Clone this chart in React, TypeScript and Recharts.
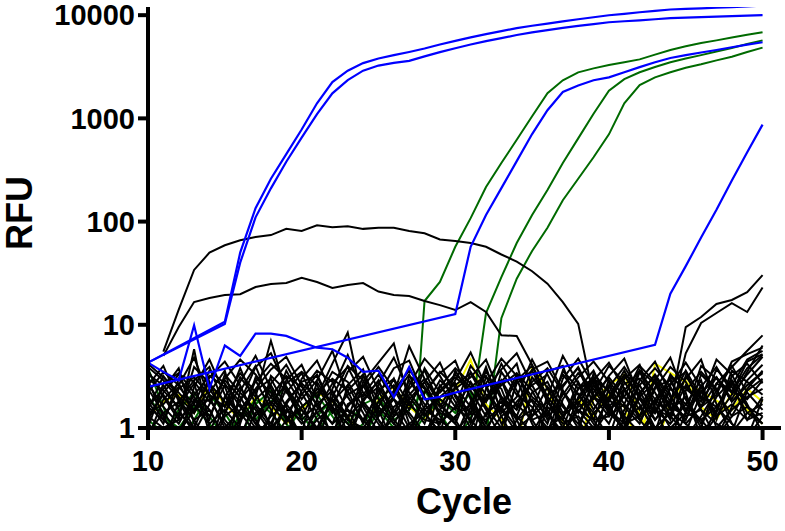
import { LineChart, Line, XAxis, YAxis } from "recharts";

const n = null;

const cycles = [
  10, 11, 12, 13, 14, 15, 16, 17, 18, 19, 20, 21, 22, 23, 24, 25, 26, 27, 28, 29,
  30, 31, 32, 33, 34, 35, 36, 37, 38, 39, 40, 41, 42, 43, 44, 45, 46, 47, 48, 49, 50,
];
const xTicks = [10, 20, 30, 40, 50];
const yTicks = [1, 10, 100, 1000, 10000];

// amplification curves (blue)
const blueA = [
  4.3, n, n, n, n, 10.7, 50, 135, 260, 450,
  780, 1400, 2250, 2900, 3430, 3800, 4100, 4400, 4750, 5200,
  5630, 6100, 6550, 7000, 7480, 7900, 8290, 8700, 9130, 9550,
  9980, 10300, 10670, 11000, 11350, 11500, 11650, 11800, 11950, 12150,
  12400,
];
const blueB = [
  4.3, n, n, n, n, 10.2, 40, 110, 210, 380,
  650, 1100, 1750, 2350, 2900, 3250, 3450, 3610, 3990, 4380,
  4780, 5200, 5600, 6000, 6420, 6800, 7170, 7520, 7880, 8200,
  8540, 8730, 8920, 9130, 9350, 9470, 9580, 9690, 9790, 9900,
  10000,
];
const blueC = [
  2.5, n, n, n, n, n, n, n, n, n,
  n, n, n, n, n, n, n, n, n, n,
  12.7, 57, 116, 211, 385, 705, 1200, 1800, 2080, 2340,
  2500, 2800, 3140, 3500, 3850, 4100, 4350, 4600, 4890, 5180,
  5470,
];
const blueD = [
  4.3, 3.5, 2.9, 9.9, 2.4, 6.3, 5.0, 8.2, 8.2, 7.8,
  6.8, 6.0, 5.8, 4.8, 3.5, 3.6, 2.0, 3.9, 1.9, 2.0,
  2.2, n, n, n, n, n, n, n, n, n,
  n, n, n, 6.4, 20, 37, 70, 130, 250, 470,
  870,
];

// amplification curves (green)
const greenE = [
  3.8, 1.6, 0.6, 1.2, 2.1, 1.4, 0.8, 1.7, 2.3, 1.1,
  0.7, 1.3, 1.9, 1.2, 0.8, 1.5, 1.0, 0.15, 17, 26,
  57, 108, 216, 370, 620, 1050, 1750, 2340, 2790, 3050,
  3290, 3500, 3730, 4150, 4600, 5000, 5370, 5700, 6090, 6450,
  6840,
];
const greenF = [
  1.2, 0.9, 1.5, 2.2, 1.3, 0.8, 1.2, 1.9, 1.4, 0.9,
  1.6, 2.1, 1.3, 0.8, 1.1, 1.8, 1.2, 1.5, 2.3, 1.4,
  0.8, 1.2, 13, 29, 62, 116, 202, 370, 640, 1110,
  1850, 2400, 2800, 3150, 3500, 3800, 4100, 4450, 4800, 5250,
  5700,
];
const greenG = [
  2.0, 1.3, 1.0, 1.6, 1.1, 0.7, 1.4, 1.2, 1.8, 2.5,
  1.3, 0.9, 1.5, 1.1, 1.7, 2.0, 1.2, 0.8, 1.3, 1.9,
  1.4, 2.2, 0.8, 11.6, 28, 52, 87, 161, 260, 420,
  700, 1400, 2100, 2500, 2800, 3100, 3350, 3650, 3950, 4400,
  4850,
];

// black curves that leave the baseline
const humpHigh = [
  n, 5.5, 14, 34, 50, 59, 66, 71, 74, 85,
  81, 92, 88, 90, 85, 87, 87, 81, 77, 67,
  65, 62, 57, 48, 41, 33, 25, 16.6, 10.2, 2.0,
  1.6, 2.4, 1.2, 1.9, 3.0, 1.5, 2.2, 3.1, 1.8, 2.6,
  3.5,
];
const humpLow = [
  n, 5.0, 9.5, 16.6, 18.2, 19.4, 19.8, 23.2, 24.8, 25.4,
  28.5, 26, 22.7, 24.3, 25.4, 21, 19.4, 19, 17, 15.5,
  13.9, 16.6, 13.3, 7.9, 7.8, 4.1, 2.0, 1.3, 2.4, 3.0,
  1.4, 1.0, 2.1, 3.3, 2.0, 1.2, 2.5, 3.9, 2.2, 4.4,
  5.2,
];
const lateP = [
  n, n, n, n, n, n, n, n, n, n,
  n, n, n, n, n, n, n, n, n, n,
  n, n, n, n, n, n, n, n, 1.4, 2.6,
  1.8, 3.2, 2.0, 2.8, 1.6, 9.5, 11.9, 15.9, 17.4, 20.7,
  30.3,
];
const lateQ = [
  n, n, n, n, n, n, n, n, n, n,
  n, n, n, n, n, n, n, n, n, n,
  n, n, n, n, n, n, n, n, 2.2, 1.2,
  2.9, 1.7, 3.6, 1.5, 1.3, 5.3, 10.4, 13.0, 16.2, 13.3,
  23,
];

// baseline noise (black)
const noise = [
  [4.2, 3.1, 2.2, 1.5, 2.8, 1.2, 0.8, 1.9, 2.6, 1.4, 2.1, 3.3, 1.6, 0.7, 1.8, 2.9, 1.3, 2.4, 3.6, 1.7, 1.1, 2.5, 3.2, 1.5, 0.9, 2.2, 2.8, 1.4, 1.9, 3.0, 2.3, 1.2, 0.6, 1.8, 2.7, 3.5, 1.6, 2.1, 4.4, 5.2, 6.0],
  [1.6, 2.4, 3.8, 1.1, 0.6, 2.0, 3.4, 2.2, 1.0, 2.9, 4.1, 1.9, 0.8, 2.6, 3.7, 1.5, 0.7, 1.9, 2.8, 4.3, 2.0, 1.2, 3.1, 2.4, 1.0, 0.5, 1.7, 3.3, 2.1, 1.4, 0.8, 2.3, 3.6, 2.7, 1.3, 0.9, 2.2, 3.1, 1.8, 2.6, 3.4],
  [2.9, 1.3, 0.7, 2.5, 4.6, 2.1, 1.4, 0.9, 3.2, 2.3, 1.2, 0.6, 2.4, 5.1, 2.2, 1.6, 3.0, 1.1, 0.7, 2.5, 3.8, 2.7, 1.5, 0.8, 2.9, 4.0, 1.9, 1.0, 2.4, 3.6, 1.7, 0.9, 2.0, 1.4, 3.3, 2.2, 0.8, 1.5, 2.8, 1.2, 2.0],
  [3.6, 2.0, 1.2, 5.8, 1.0, 0.5, 2.3, 4.0, 1.7, 1.1, 3.0, 4.5, 2.1, 1.3, 0.6, 2.7, 4.8, 2.2, 1.4, 0.9, 2.6, 3.4, 1.8, 4.2, 2.3, 1.1, 0.6, 2.5, 3.9, 2.0, 1.3, 3.0, 4.1, 1.6, 0.7, 2.3, 3.5, 2.4, 1.1, 0.8, 1.9],
  [1.1, 0.7, 1.8, 2.9, 3.9, 1.6, 2.8, 5.0, 2.4, 1.3, 0.7, 1.9, 3.5, 2.8, 1.6, 0.9, 2.1, 6.2, 3.0, 1.7, 1.2, 0.7, 2.4, 3.7, 5.3, 2.6, 1.4, 0.8, 1.7, 2.9, 4.3, 2.4, 1.3, 2.9, 4.8, 1.9, 1.0, 2.7, 3.9, 5.6, 7.9],
  [2.2, 3.5, 2.6, 4.8, 2.0, 1.0, 1.5, 2.4, 3.7, 4.9, 2.6, 1.4, 0.9, 1.6, 2.5, 3.9, 2.4, 1.3, 0.8, 1.5, 2.4, 3.1, 4.6, 2.0, 1.3, 3.1, 2.0, 5.0, 2.7, 1.2, 0.7, 1.5, 2.6, 3.8, 2.5, 1.4, 4.0, 3.0, 2.2, 3.8, 5.1],
  [0.8, 1.9, 2.7, 1.4, 3.1, 4.4, 2.6, 1.2, 0.7, 1.8, 2.7, 2.0, 4.2, 8.4, 1.7, 1.1, 0.6, 2.6, 4.7, 3.2, 1.8, 1.0, 2.0, 2.9, 1.6, 3.7, 4.4, 2.3, 1.2, 0.7, 2.5, 3.9, 2.3, 1.2, 1.9, 3.0, 4.6, 1.7, 0.9, 2.3, 3.0],
  [3.3, 2.6, 1.5, 0.9, 1.7, 3.0, 4.6, 3.3, 2.0, 1.3, 0.9, 2.8, 1.6, 3.5, 4.9, 2.3, 1.2, 0.8, 2.2, 3.4, 4.5, 1.9, 1.0, 1.6, 3.3, 1.8, 1.1, 3.0, 4.7, 2.6, 1.5, 1.0, 2.9, 4.4, 2.1, 1.1, 1.6, 3.7, 2.5, 1.4, 1.1],
  [1.8, 1.1, 3.0, 2.0, 1.3, 2.6, 1.8, 3.9, 5.3, 2.5, 1.5, 1.0, 1.9, 0.9, 2.8, 4.3, 6.6, 1.8, 1.1, 2.6, 1.6, 4.0, 2.6, 1.3, 0.7, 1.5, 3.5, 4.0, 1.6, 1.9, 3.2, 4.7, 2.0, 1.0, 0.6, 1.4, 2.6, 1.2, 3.2, 4.2, 2.7],
  [2.6, 4.0, 1.8, 1.0, 2.2, 3.6, 1.0, 0.6, 1.4, 3.6, 1.9, 2.9, 5.6, 2.0, 1.2, 2.1, 3.8, 4.5, 2.0, 1.0, 0.6, 1.6, 3.9, 1.4, 2.0, 4.6, 2.4, 1.3, 0.9, 3.4, 2.2, 1.6, 1.1, 2.4, 3.9, 2.8, 1.5, 0.8, 1.6, 2.9, 4.1],
  [1.3, 2.1, 1.3, 3.9, 2.7, 1.8, 1.2, 2.9, 1.5, 0.8, 2.3, 3.6, 2.8, 1.5, 0.8, 1.8, 2.6, 1.5, 3.8, 2.2, 3.1, 2.3, 1.3, 2.8, 4.2, 1.2, 0.7, 1.9, 3.1, 4.4, 2.8, 1.3, 3.5, 2.2, 1.2, 3.2, 1.9, 4.6, 3.3, 1.7, 0.9],
  [3.9, 2.9, 1.9, 1.2, 0.7, 1.4, 3.1, 2.0, 7.0, 2.2, 3.4, 1.6, 1.1, 2.3, 3.3, 1.2, 0.7, 3.2, 2.4, 1.6, 2.9, 5.4, 2.5, 1.1, 1.8, 2.6, 3.3, 1.7, 1.0, 2.2, 4.0, 2.8, 1.7, 0.9, 2.6, 4.3, 2.5, 1.3, 2.1, 3.3, 4.9],
  [1.4, 1.7, 2.5, 1.7, 3.6, 2.7, 1.6, 1.0, 2.7, 4.1, 2.2, 1.2, 0.7, 1.7, 2.1, 3.3, 1.9, 1.0, 1.6, 2.9, 2.1, 1.4, 3.6, 1.9, 1.2, 0.6, 2.1, 2.6, 3.8, 1.7, 1.1, 2.4, 1.5, 3.0, 1.6, 0.8, 1.3, 2.3, 4.0, 2.2, 1.5],
  [2.4, 1.4, 0.9, 1.9, 1.2, 3.3, 2.2, 1.5, 0.9, 1.7, 2.8, 3.2, 1.5, 0.8, 1.9, 2.5, 1.4, 2.9, 1.7, 1.1, 3.6, 2.0, 1.1, 3.5, 2.1, 1.6, 0.9, 2.3, 1.4, 2.6, 1.9, 3.3, 2.6, 1.4, 2.4, 1.7, 2.9, 1.0, 1.5, 2.0, 2.4],
  [1.0, 2.7, 3.4, 2.2, 1.5, 0.8, 1.9, 2.8, 4.2, 3.0, 1.7, 0.9, 2.0, 4.0, 2.9, 1.3, 2.3, 3.6, 2.5, 1.3, 0.8, 1.8, 2.7, 4.7, 3.2, 2.0, 1.5, 0.8, 2.0, 3.2, 1.5, 2.0, 4.0, 2.8, 1.5, 2.0, 1.1, 2.0, 2.9, 1.6, 1.3],
  [2.0, 1.2, 2.4, 3.1, 2.1, 1.6, 3.8, 1.7, 1.1, 2.4, 1.3, 2.4, 1.8, 2.6, 1.4, 0.7, 1.6, 2.1, 3.0, 1.9, 1.5, 2.8, 1.6, 1.0, 2.7, 3.6, 1.8, 1.2, 2.8, 1.5, 2.6, 1.1, 0.7, 1.7, 3.1, 2.4, 1.8, 3.1, 1.9, 3.5, 6.3],
  [3.0, 2.3, 1.6, 2.7, 0.9, 2.0, 1.3, 2.3, 3.0, 1.6, 0.8, 1.5, 2.7, 3.9, 2.0, 2.8, 1.5, 0.9, 2.2, 3.5, 2.5, 1.6, 0.9, 2.0, 1.5, 2.8, 3.8, 2.2, 1.5, 1.0, 2.0, 3.6, 1.9, 1.2, 1.8, 3.6, 2.0, 1.6, 2.6, 4.6, 5.6],
  [1.5, 3.2, 2.0, 1.4, 2.4, 1.4, 2.5, 1.3, 2.0, 3.2, 2.5, 1.7, 2.3, 1.2, 3.2, 1.9, 1.1, 2.0, 1.3, 2.3, 3.3, 2.5, 1.8, 2.9, 1.2, 1.9, 1.3, 3.6, 2.4, 2.8, 1.6, 0.9, 2.2, 3.2, 1.8, 1.2, 3.3, 2.3, 1.3, 2.4, 3.6],
  [2.7, 1.6, 1.1, 2.1, 3.2, 2.5, 1.1, 3.1, 2.2, 1.2, 1.6, 2.2, 3.0, 2.3, 1.1, 2.3, 3.0, 1.7, 2.8, 1.4, 1.2, 3.5, 2.1, 1.5, 3.0, 1.3, 2.5, 1.6, 1.1, 2.0, 3.1, 2.0, 1.3, 2.5, 2.9, 1.5, 2.3, 1.4, 3.6, 2.8, 2.1],
  [1.2, 2.2, 3.3, 2.8, 1.8, 2.9, 2.0, 1.1, 1.7, 2.7, 3.5, 2.6, 1.4, 2.1, 2.6, 1.4, 2.0, 3.3, 1.5, 2.0, 2.7, 1.1, 1.9, 2.6, 3.4, 2.3, 1.2, 2.1, 3.4, 2.4, 1.4, 2.7, 3.0, 1.9, 1.3, 2.6, 1.6, 2.7, 2.3, 1.9, 2.9],
  [1.1, 0.8, 1.4, 1.0, 0.6, 1.3, 1.7, 1.1, 0.7, 1.2, 1.5, 1.0, 0.7, 1.3, 1.8, 1.2, 0.8, 1.1, 1.4, 0.9, 1.3, 1.7, 1.0, 0.6, 1.2, 1.5, 1.0, 1.3, 1.8, 1.1, 0.7, 1.2, 1.6, 1.0, 1.4, 1.1, 0.8, 1.3, 1.7, 1.2, 1.4],
  [1.6, 1.2, 0.9, 1.5, 1.9, 1.1, 0.7, 1.4, 1.8, 1.3, 0.8, 1.2, 1.6, 1.1, 0.7, 1.3, 1.9, 1.4, 0.9, 1.5, 1.1, 0.7, 1.4, 1.8, 1.3, 0.9, 1.6, 1.2, 0.8, 1.4, 1.9, 1.3, 0.9, 1.5, 1.1, 1.7, 1.2, 0.8, 1.3, 1.6, 1.1],
  [0.9, 1.4, 1.8, 1.2, 1.5, 0.8, 1.2, 1.6, 1.0, 1.5, 1.2, 1.7, 1.1, 1.5, 1.2, 0.8, 1.3, 1.7, 1.2, 1.1, 1.6, 1.2, 0.8, 1.3, 1.7, 1.2, 1.4, 0.9, 1.5, 1.2, 1.3, 1.7, 1.2, 0.8, 1.6, 1.3, 1.5, 1.1, 0.9, 1.4, 1.7],
  [1.3, 1.0, 1.2, 1.7, 1.1, 1.5, 1.0, 0.8, 1.3, 1.7, 1.1, 1.4, 1.9, 1.2, 1.0, 1.6, 1.1, 0.8, 1.5, 1.2, 0.9, 1.4, 1.2, 1.6, 1.0, 1.3, 1.8, 1.1, 1.3, 0.9, 1.5, 1.1, 1.3, 1.8, 1.0, 1.4, 1.2, 1.6, 1.1, 0.8, 1.3],
];

// baseline noise (yellow)
const yellow1 = [
  1.3, 1.8, 2.1, 1.4, 2.6, 1.7, 1.2, 2.0, 1.6, 1.1,
  1.5, 2.2, 1.8, 1.3, 0.8, 1.9, 2.5, 1.6, 1.2, 1.8,
  2.3, 4.6, 1.7, 1.2, 0.6, 3.9, 2.4, 1.1, 0.7, 1.9,
  2.6, 3.3, 1.4, 0.6, 1.8, 2.9, 1.6, 1.2, 2.2, 1.5,
  1.1,
];
const yellow2 = [
  n, n, n, n, n, n, n, n, n, n,
  n, n, n, n, n, n, n, n, n, n,
  n, n, n, n, n, n, n, n, 1.9, 1.3,
  2.1, 1.6, 0.6, 4.2, n, n, n, n, 1.5, 2.4,
  1.8,
];

const BLUE = "#0000ff";
const GREEN = "#006a00";
const BLACK = "#000000";
const YELLOW = "#f2f200";

const series = [
  { key: "y1", color: YELLOW, values: yellow1, width: 2 },
  { key: "y2", color: YELLOW, values: yellow2, width: 2 },
  { key: "gE", color: GREEN, values: greenE, width: 2 },
  { key: "gF", color: GREEN, values: greenF, width: 2 },
  { key: "gG", color: GREEN, values: greenG, width: 2 },
  ...noise.map((values, i) => ({ key: "n" + i, color: BLACK, values, width: 2 })),
  { key: "hH", color: BLACK, values: humpHigh, width: 2 },
  { key: "hL", color: BLACK, values: humpLow, width: 2 },
  { key: "lP", color: BLACK, values: lateP, width: 2 },
  { key: "lQ", color: BLACK, values: lateQ, width: 2 },
  { key: "bA", color: BLUE, values: blueA, width: 2.2 },
  { key: "bB", color: BLUE, values: blueB, width: 2.2 },
  { key: "bC", color: BLUE, values: blueC, width: 2.2 },
  { key: "bD", color: BLUE, values: blueD, width: 2.2 },
];

const data = cycles.map((cycle, i) => {
  const row: Record<string, number | null> = { cycle };
  series.forEach((s) => {
    row[s.key] = s.values[i];
  });
  return row;
});

const font = "'Liberation Sans', Arial, sans-serif";
const tickStyle = { fill: "#000", fontSize: 29, fontWeight: 700, fontFamily: font };
const axisStroke = { stroke: "#000", strokeWidth: 4 };

export default function App() {
  return (
    <div style={{ position: "absolute", left: 0, top: 0, background: "#fff" }}>
      <LineChart
        width={785}
        height={531}
        data={data}
        margin={{ top: 7, right: 4, left: 0, bottom: 0 }}
      >
        <XAxis
          dataKey="cycle"
          type="number"
          domain={[10, 51.2]}
          ticks={xTicks}
          interval={0}
          tick={tickStyle}
          tickSize={12}
          tickMargin={10}
          axisLine={axisStroke}
          tickLine={axisStroke}
          height={103}
          label={() => (
            <text
              x={464}
              y={514}
              textAnchor="middle"
              fontSize={36}
              fontWeight={700}
              fontFamily={font}
              fill="#000"
            >
              Cycle
            </text>
          )}
        />
        <YAxis
          type="number"
          scale="log"
          domain={[1, 12000]}
          allowDataOverflow
          ticks={yTicks}
          interval={0}
          tick={tickStyle}
          tickSize={10}
          tickMargin={3}
          axisLine={axisStroke}
          tickLine={axisStroke}
          width={148}
          label={() => (
            <text
              x={19}
              y={213}
              transform="rotate(-90 19 213)"
              textAnchor="middle"
              dominantBaseline="central"
              fontSize={36}
              fontWeight={700}
              fontFamily={font}
              fill="#000"
            >
              RFU
            </text>
          )}
        />
        {series.map((s) => (
          <Line
            key={s.key}
            dataKey={s.key}
            stroke={s.color}
            strokeWidth={s.width}
            dot={false}
            activeDot={false}
            connectNulls
            isAnimationActive={false}
          />
        ))}
      </LineChart>
    </div>
  );
}
